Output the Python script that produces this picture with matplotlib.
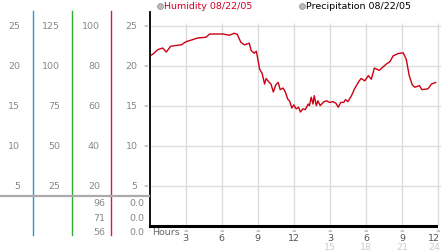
import matplotlib
matplotlib.use("Agg")
import matplotlib.pyplot as plt
import matplotlib.transforms as mtransforms
from matplotlib.lines import Line2D

# humidity readings for 08/22/05 (hours, value)
hours = [0.0, 0.3, 0.7, 1.1, 1.4, 1.75, 2.1, 2.65, 3.05, 3.6, 4.0, 4.7, 5.0, 6.1, 6.65, 7.05,
         7.3, 7.6, 7.9, 8.3, 8.45, 8.7, 8.88, 9.0, 9.15, 9.37, 9.57, 9.7, 9.9, 10.1, 10.3, 10.5,
         10.7, 10.87, 11.1, 11.3, 11.5, 11.65, 11.84, 12.0, 12.2, 12.4, 12.55, 12.75, 12.95, 13.2,
         13.3, 13.45, 13.6, 13.7, 13.87, 14.0, 14.2, 14.5, 14.75, 14.97, 15.25, 15.5, 15.7, 15.9,
         16.15, 16.3, 16.5, 16.8, 17.05, 17.4, 17.6, 17.9, 18.2, 18.45, 18.7, 19.1, 19.7, 20.0,
         20.25, 20.65, 21.1, 21.35, 21.6, 21.85, 22.05, 22.45, 22.65, 23.15, 23.45, 23.8]
humidity = [21.2, 21.45, 22.0, 22.2, 21.7, 22.4, 22.5, 22.6, 23.0, 23.25, 23.45, 23.55, 23.95, 23.95, 23.8, 24.05,
            23.9, 22.9, 22.6, 22.8, 21.9, 21.55, 21.8, 20.9, 19.6, 19.0, 17.7, 18.4, 18.0, 17.7, 16.7, 17.6,
            17.9, 17.0, 17.2, 16.7, 15.8, 15.6, 14.7, 15.1, 14.6, 14.8, 14.2, 14.6, 14.5, 15.2,
            15.0, 16.05, 15.2, 16.25, 15.0, 15.6, 15.0, 15.5, 15.6, 15.4, 15.5, 15.3, 14.8, 15.4,
            15.4, 15.75, 15.5, 16.25, 17.1, 18.0, 18.4, 18.1, 18.75, 18.3, 19.7, 19.4, 20.2, 20.5,
            21.2, 21.5, 21.6, 20.8, 18.75, 17.6, 17.3, 17.5, 17.0, 17.1, 17.7, 17.9]

# scale columns on the left
y_ticks = [25, 20, 15, 10, 5]
scale1 = ["25", "20", "15", "10", "5"]
scale2 = ["125", "100", "75", "50", "25"]
scale3 = ["100", "80", "60", "40", "20"]
scale4 = ["25", "20", "15", "10", "5"]
table_a = ["96", "71", "56"]
table_b = ["0.0", "0.0", "0.0"]

x_ticks = [3, 6, 9, 12, 15, 18, 21, 24]
x_labels = ["3", "6", "9", "12", "3", "6", "9", "12"]
x_labels_24 = ["", "", "", "", "15", "18", "21", "24"]

W, H = 442, 253
def fx(px):
    return px / W
def fy(py):
    return 1 - py / H

fig = plt.figure(figsize=(W / 100, H / 100), dpi=100)
ax = fig.add_axes([fx(149.5), fy(226.7), 291 / W, (226.7 - 13) / H])
ax.set_xlim(0, 24.2)
ax.set_ylim(0, 26.7)

ax.hlines(y_ticks, 0, 24.2, color="#dddddd", lw=1, zorder=0)
ax.vlines(x_ticks, 0, 25.3, color="#dddddd", lw=1, zorder=0)
ax.plot(hours, humidity, color="#cc0011", lw=1)

for s in ["top", "right"]:
    ax.spines[s].set_visible(False)
ax.spines["left"].set_linewidth(1.3)
ax.spines["bottom"].set_linewidth(2.2)
ax.spines["bottom"].set_bounds(0, 23.8)
ax.set_xticks([])
ax.set_yticks([])

fs = 6.8
grey = "#888888"

# x labels
xt = ax.get_xaxis_transform()
for x, l1, l2 in zip(x_ticks, x_labels, x_labels_24):
    ha = "center"
    if x == 24:
        x, ha = 24.15, "right"
    ax.text(x, -0.02, "≈", transform=xt, ha=ha, va="center", fontsize=4, color="#999999")
    ax.text(x, -0.056, l1, transform=xt, ha=ha, va="center", fontsize=fs, color="#555555")
    ax.text(x, -0.097, l2, transform=xt, ha=ha, va="center", fontsize=fs, color="#cccccc")
ax.text(0.25, -0.028, "Hours", transform=xt, ha="left", va="center", fontsize=fs, color="#666666")

# y marks and left columns
yt = ax.get_yaxis_transform()
for y in y_ticks:
    ax.text(-0.014, y, "≈", transform=yt, ha="center", va="center", fontsize=4, color="#999999")

bt = mtransforms.blended_transform_factory(fig.transFigure, ax.transData)
for y, a, b, c, d in zip(y_ticks, scale1, scale2, scale3, scale4):
    fig.text(fx(20), y, a, transform=bt, ha="right", va="center", fontsize=fs, color=grey)
    fig.text(fx(60), y, b, transform=bt, ha="right", va="center", fontsize=fs, color=grey)
    fig.text(fx(100), y, c, transform=bt, ha="right", va="center", fontsize=fs, color=grey)
    fig.text(fx(137.5), y, d, transform=bt, ha="right", va="center", fontsize=fs, color=grey)

for py, a, b in zip([204, 218.3, 232.3], table_a, table_b):
    fig.text(fx(105), fy(py), a, ha="right", va="center", fontsize=fs, color=grey)
    fig.text(fx(144.5), fy(py), b, ha="right", va="center", fontsize=fs, color=grey)

fig.add_artist(Line2D([fx(33.3)] * 2, [fy(12), fy(236)], color="#2299cc", lw=1))
fig.add_artist(Line2D([fx(72.3)] * 2, [fy(12), fy(236)], color="#33aa33", lw=1))
fig.add_artist(Line2D([fx(111)] * 2, [fy(12), fy(236)], color="#cc2233", lw=1))
fig.add_artist(Line2D([0, fx(149)], [fy(197)] * 2, color="#aaaaaa", lw=1.6))

# legend
fig.add_artist(Line2D([fx(160)], [fy(6.7)], marker="o", ms=4.2, mfc="#bbbbbb", mec="#999999", mew=0.6))
fig.text(fx(164.5), fy(6.7), "Humidity 08/22/05", ha="left", va="center", fontsize=fs, color="#cc0022")
fig.add_artist(Line2D([fx(302)], [fy(6.7)], marker="o", ms=4.2, mfc="#bbbbbb", mec="#999999", mew=0.6))
fig.text(fx(306.5), fy(6.7), "Precipitation 08/22/05", ha="left", va="center", fontsize=fs, color="black")

fig.savefig("out.png", dpi=100)
